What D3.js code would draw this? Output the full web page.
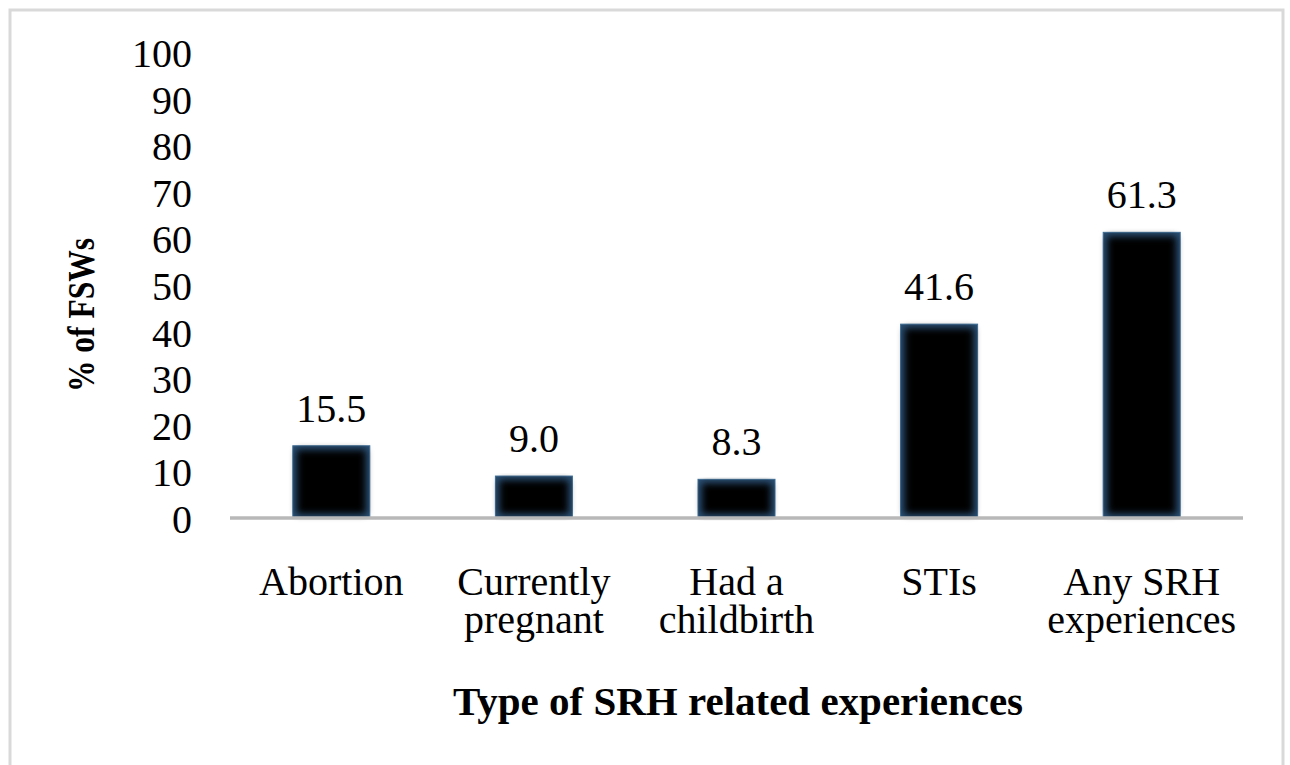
<!DOCTYPE html>
<html>
<head>
<meta charset="utf-8">
<script src="https://cdn.jsdelivr.net/npm/d3@7"></script>
<style>
  body { margin: 0; background: #fff; }
  text { font-family: "Liberation Serif", "Times New Roman", serif; fill: #000; }
</style>
</head>
<body>
<div id="chart"></div>
<script>
var categories = [["Abortion"], ["Currently", "pregnant"], ["Had a", "childbirth"], ["STIs"], ["Any SRH", "experiences"]];
var values = [15.5, 9.0, 8.3, 41.6, 61.3];
var yTicks = [0, 10, 20, 30, 40, 50, 60, 70, 80, 90, 100];

var width = 1290, height = 765;

var svg = d3.select("#chart").append("svg")
    .attr("width", width)
    .attr("height", height);

// outer frame, bottom edge runs off the picture
svg.append("rect")
    .attr("x", 10).attr("y", 10)
    .attr("width", 1273).attr("height", 770)
    .attr("fill", "none")
    .attr("stroke", "#d9d9d9")
    .attr("stroke-width", 3);

var defs = svg.append("defs");
defs.append("filter")
    .attr("id", "soft")
    .attr("x", "-20%").attr("y", "-20%")
    .attr("width", "140%").attr("height", "140%")
  .append("feGaussianBlur")
    .attr("stdDeviation", 3.5);

var x = d3.scaleBand()
    .domain(d3.range(categories.length))
    .range([230, 1243])
    .paddingInner(0.62)
    .paddingOuter(0.31);

var y = d3.scaleLinear()
    .domain([0, 100])
    .range([518, 52]);

// y axis labels (no line, no ticks)
var yAxis = svg.append("g")
    .attr("transform", "translate(192,0)")
    .call(d3.axisLeft(y).tickValues(yTicks).tickSize(0).tickPadding(0));
yAxis.select(".domain").remove();
yAxis.selectAll("text")
    .attr("font-family", "Liberation Serif, Times New Roman, serif")
    .attr("font-size", 40)
    .attr("fill", "#000")
    .attr("dy", "0.36em");

// bars: dark blue edge with black blurred core
var bars = svg.append("g").selectAll("g")
    .data(values)
    .join("g");

bars.append("rect")
    .attr("x", function(d, i) { return x(i); })
    .attr("y", function(d) { return y(d); })
    .attr("width", x.bandwidth())
    .attr("height", function(d) { return y(0) - y(d); })
    .attr("fill", "#2a4f73")
    .attr("stroke", "#3f6f99")
    .attr("stroke-width", 1);

bars.append("rect")
    .attr("x", function(d, i) { return x(i) + 4; })
    .attr("y", function(d) { return y(d) + 4; })
    .attr("width", x.bandwidth() - 8)
    .attr("height", function(d) { return Math.max(0, y(0) - y(d) - 8); })
    .attr("fill", "#000")
    .attr("filter", "url(#soft)");

// value labels
svg.append("g").selectAll("text")
    .data(values)
    .join("text")
    .attr("x", function(d, i) { return x(i) + x.bandwidth() / 2; })
    .attr("y", function(d) { return y(d) - 24; })
    .attr("text-anchor", "middle")
    .attr("font-size", 40)
    .text(function(d) { return d.toFixed(1); });

// x axis line
svg.append("line")
    .attr("x1", 230).attr("x2", 1243)
    .attr("y1", y(0)).attr("y2", y(0))
    .attr("stroke", "#b8b8b8")
    .attr("stroke-width", 3.5);

// category labels
var catLabels = svg.append("g").selectAll("text")
    .data(categories)
    .join("text")
    .attr("x", function(d, i) { return x(i) + x.bandwidth() / 2; })
    .attr("y", 595)
    .attr("text-anchor", "middle")
    .attr("font-size", 40);

catLabels.selectAll("tspan")
    .data(function(d) { return d; })
    .join("tspan")
    .attr("x", function() { return d3.select(this.parentNode).attr("x"); })
    .attr("dy", function(d, i) { return i === 0 ? 0 : 38; })
    .text(function(d) { return d; });

// axis titles
svg.append("text")
    .attr("x", 738)
    .attr("y", 715)
    .attr("text-anchor", "middle")
    .attr("font-size", 41)
    .attr("font-weight", "bold")
    .text("Type of SRH related experiences");

svg.append("text")
    .attr("transform", "translate(94,315) rotate(-90)")
    .attr("text-anchor", "middle")
    .attr("font-size", 38)
    .attr("font-weight", "bold")
    .attr("textLength", 154)
    .attr("lengthAdjust", "spacingAndGlyphs")
    .text("% of FSWs");
</script>
</body>
</html>
